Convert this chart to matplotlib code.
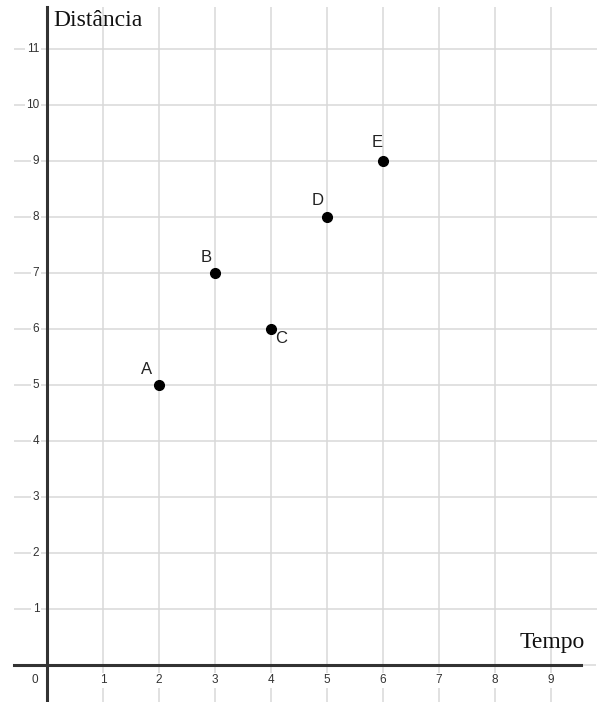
import matplotlib
matplotlib.use("Agg")
import matplotlib.pyplot as plt

# pontos do gráfico
nomes = ["A", "B", "C", "D", "E"]
tempo = [2, 3, 4, 5, 6]
distancia = [5, 7, 6, 8, 9]
# deslocamento dos rótulos em pixels
desloc = {"A": (-13, 16), "B": (-9, 16), "C": (10, -9), "D": (-9, 17), "E": (-6, 19)}

x_ticks = list(range(1, 10))
y_ticks = list(range(1, 12))

fig = plt.figure(figsize=(5.97, 7.02), dpi=100)
ax = fig.add_axes([0, 0, 1, 1])
ax.set_xlim(-0.84, 9.82)
ax.set_ylim(-0.66, 11.875)
ax.axis("off")

grid = "#d9d9d9"
ax.vlines(x_ticks, -0.66, 11.75, color=grid, lw=1.1, zorder=1)
ax.hlines(y_ticks, -0.59, 9.82, color=grid, lw=1.1, zorder=1)
ax.hlines(0, 9.5, 9.8, color=grid, lw=1.1, zorder=1)

# eixos
ax.plot([-0.59, 9.54], [0, 0], color="#333333", lw=2.2, zorder=3)
ax.plot([0, 0], [-0.66, 11.75], color="#333333", lw=2.2, zorder=3)

tick_kw = dict(fontsize=8.5, color="#333333", family="Liberation Sans", zorder=2,
               bbox=dict(facecolor="white", edgecolor="none", pad=1))
for t in x_ticks:
    ax.text(t, -0.27, str(t), ha="center", va="center", **tick_kw)
for t in y_ticks:
    ax.text(-0.14, t, str(t), ha="right", va="center", **tick_kw)
ax.text(-0.21, -0.27, "0", ha="center", va="center", **tick_kw)

ax.text(0.11, 11.70, "Distância", family="Liberation Serif", fontsize=17,
        ha="left", va="top", color="#111111")
ax.text(9.6, 0.21, "Tempo", family="Liberation Serif", fontsize=17,
        ha="right", va="bottom", color="#111111")

ax.plot(tempo, distancia, "o", color="black", ms=7, zorder=5)
for n, x, y in zip(nomes, tempo, distancia):
    ax.annotate(n, (x, y), xytext=desloc[n], textcoords="offset pixels",
                ha="center", va="center", fontsize=12, family="Liberation Sans",
                color="#222222", zorder=6)

fig.savefig("out.png", dpi=100, facecolor="white")
